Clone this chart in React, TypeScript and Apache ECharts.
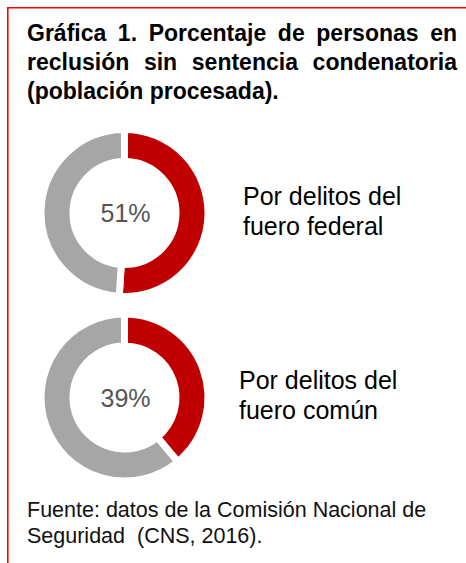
import React, { useEffect, useRef } from "react";
import * as echarts from "echarts";

const categories = ["Por delitos del fuero federal", "Por delitos del fuero común"];
const labelLines = [
  ["Por delitos del", "fuero federal"],
  ["Por delitos del", "fuero común"],
];
const sinSentencia = [51, 39];
const conSentencia = [49, 61];
const titleLines = [
  "Gráfica 1. Porcentaje de personas en",
  "reclusión sin sentencia condenatoria",
  "(población procesada).",
];
const sourceLines = ["Fuente: datos de la Comisión Nacional de", "Seguridad  (CNS, 2016)."];

const RED = "#C00000";
const GRAY = "#A6A6A6";
const FONT = "'Liberation Sans', Arial, sans-serif";

function measure(text: string, font: string): number {
  const c = document.createElement("canvas").getContext("2d");
  if (!c) return text.length * 10;
  c.font = font;
  return c.measureText(text).width;
}

export default function App() {
  const ref = useRef<HTMLDivElement>(null);
  useEffect(() => {
    if (!ref.current) return;
    const chart = echarts.init(ref.current, null, { renderer: "svg" });
    const centers = [
      [124.5, 213],
      [124.5, 397.5],
    ];
    const series = categories.map((c, i) => ({
      type: "pie",
      name: c,
      center: centers[i],
      radius: [51.5, 83.5],
      startAngle: 90,
      clockwise: true,
      silent: true,
      label: { show: false },
      labelLine: { show: false },
      itemStyle: { borderColor: "#fff", borderWidth: 7 },
      data: [
        { name: "Sin sentencia", value: sinSentencia[i], itemStyle: { color: RED } },
        { name: "Con sentencia", value: conSentencia[i], itemStyle: { color: GRAY } },
      ],
    }));

    const tSize = 23;
    const titleStyle = { fontFamily: FONT, fontWeight: "bold", fontSize: tSize, fill: "#000" };
    const cssFont = `bold ${tSize}px ${FONT}`;
    const left = 27;
    const right = 457;
    const sx = Math.min(1, (right - left) / measure(titleLines[0], cssFont));
    const titleBase = [44, 73, 102];
    const graphics: any[] = [
      { type: "rect", shape: { x: 7, y: 7, width: 459, height: 1.6 }, style: { fill: "#FF0000" } },
      { type: "rect", shape: { x: 7, y: 7, width: 1.6, height: 556 }, style: { fill: "#FF0000" } },
    ];
    titleLines.forEach((line, li) => {
      const justify = li < titleLines.length - 1;
      if (!justify) {
        graphics.push({
          type: "text",
          x: left,
          y: titleBase[li],
          scaleX: sx,
          style: { ...titleStyle, text: line, textVerticalAlign: "bottom" },
        });
        return;
      }
      const words = line.split(" ");
      const widths = words.map((w) => measure(w, cssFont) * sx);
      const total = widths.reduce((a, b) => a + b, 0);
      const gap = (right - left - total) / (words.length - 1);
      let x = left;
      words.forEach((w, wi) => {
        graphics.push({
          type: "text",
          x,
          y: titleBase[li],
          scaleX: sx,
          style: { ...titleStyle, text: w, textVerticalAlign: "bottom" },
        });
        x += widths[wi] + gap;
      });
    });
    sinSentencia.forEach((v, i) => {
      graphics.push({
        type: "text",
        x: centers[i][0] + 1,
        y: centers[i][1],
        style: {
          text: `${v}%`,
          fontFamily: FONT,
          fontSize: 25,
          fill: "#555555",
          textAlign: "center",
          textVerticalAlign: "middle",
        },
      });
    });
    const labelPos = [
      [243, 208],
      [239, 392],
    ];
    labelLines.forEach((lines, i) => {
      lines.forEach((t, j) => {
        graphics.push({
          type: "text",
          x: labelPos[i][0],
          y: labelPos[i][1] + j * 30.5,
          style: { text: t, fontFamily: FONT, fontSize: 25, fill: "#000", textVerticalAlign: "bottom" },
        });
      });
    });
    sourceLines.forEach((t, j) => {
      graphics.push({
        type: "text",
        x: 27,
        y: 521 + j * 25.5,
        style: { text: t, fontFamily: FONT, fontSize: 21.5, fill: "#111", textVerticalAlign: "bottom" },
      });
    });

    chart.setOption({
      animation: false,
      backgroundColor: "#fff",
      series,
      graphic: graphics,
    });
    return () => chart.dispose();
  }, []);
  return (
    <div
      ref={ref}
      style={{ position: "fixed", left: 0, top: 0, width: 466, height: 563 }}
    />
  );
}
